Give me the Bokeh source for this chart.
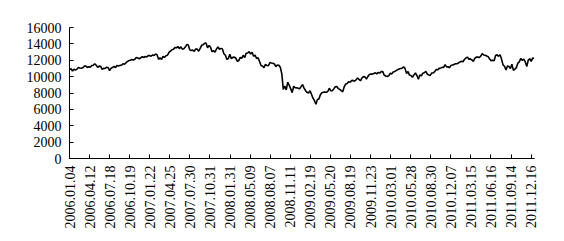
import numpy as np
from bokeh.plotting import figure
from bokeh.models import Range1d, FixedTicker
from bokeh.embed import file_html
from bokeh.resources import INLINE

# weekly closing values (2006-01 .. 2011-12)
v2006 = [10880, 10960, 10670, 10910, 10790, 10920, 11120, 11060, 11020, 11080, 11280, 11280, 11110,
         11200, 11140, 11350, 11380, 11580, 11380, 11140, 11280, 11250, 10890, 11010, 10990, 11150,
         11090, 10740, 11030, 11100, 11240, 11090, 11380, 11280, 11380, 11390, 11560, 11510, 11680,
         11850, 11960, 12000, 12090, 12030, 12110, 12340, 12280, 12190, 12300, 12440, 12340, 12460]
v2007 = [12400, 12560, 12570, 12490, 12650, 12580, 12770, 12650, 12110, 12280, 12110, 12480, 12350,
         12560, 12610, 12960, 13120, 13270, 13330, 13560, 13510, 13670, 13420, 13640, 13360, 13410,
         13610, 13910, 13850, 13270, 13180, 13240, 13080, 13380, 13360, 13110, 13440, 13820, 13900,
         14070, 14090, 13520, 13810, 13600, 13040, 13180, 12980, 13370, 13630, 13340, 13450, 13370]
v2008 = [12800, 12610, 12100, 12210, 12740, 12180, 12350, 12380, 12270, 11890, 11950, 12360, 12220,
         12610, 12330, 12850, 12890, 13060, 12750, 12990, 12480, 12640, 12210, 12310, 11840, 11350,
         11290, 11100, 11500, 11370, 11330, 11730, 11660, 11630, 11540, 11220, 11420, 11390, 11140,
         10330, 8450, 8850, 8380, 9330, 8940, 8500, 8050, 8830, 8640, 8630, 8580, 8520, 8780]
v2009 = [9030, 8600, 8280, 8080, 8000, 8280, 7850, 7370, 7060, 6630, 7220, 7280, 7780,
         8020, 8080, 8130, 8080, 8210, 8580, 8270, 8280, 8500, 8760, 8800, 8540, 8440,
         8280, 8150, 8740, 9090, 9170, 9370, 9320, 9510, 9540, 9440, 9610, 9820, 9670,
         9490, 9860, 10000, 9970, 9710, 10020, 10270, 10320, 10310, 10390, 10470, 10330, 10520, 10430]
v2010 = [10620, 10610, 10170, 10070, 10010, 10100, 10400, 10330, 10570, 10630, 10740, 10850,
         10930, 11000, 11020, 11200, 11010, 10380, 10620, 10190, 10140, 9930, 10210, 10450, 10140,
         9690, 10200, 10100, 10420, 10470, 10650, 10300, 10210, 10150, 10450, 10460, 10610, 10860,
         10830, 11010, 11060, 11130, 11120, 11450, 11190, 11200, 11090, 11380, 11410, 11490, 11570, 11580]
v2011 = [11670, 11790, 11870, 11820, 12090, 12270, 12390, 12130, 12170, 12040, 11860, 12220,
         12380, 12380, 12340, 12510, 12810, 12640, 12600, 12510, 12440, 12150, 11950, 12000, 11930,
         12580, 12660, 12480, 12680, 12140, 11440, 11270, 10820, 11290, 11240, 10990, 11510, 10770,
         10910, 11100, 11640, 11810, 12230, 11980, 12150, 11800, 11230, 12020, 12180, 11870, 12290, 12220]

values = v2006 + v2007 + v2008 + v2009 + v2010 + v2011
n_days = 1506          # trading days in the series
tick_step = 65         # trading days between labelled ticks
tick_labels = ["2006.01.04", "2006.04.12", "2006.07.18", "2006.10.19", "2007.01.22", "2007.04.25",
               "2007.07.30", "2007.10.31", "2008.01.31", "2008.05.09", "2008.08.07", "2008.11.11",
               "2009.02.19", "2009.05.20", "2009.08.19", "2009.11.23", "2010.03.01", "2010.05.28",
               "2010.08.30", "2010.12.07", "2011.03.15", "2011.06.16", "2011.09.14", "2011.12.16"]
y_ticks = [0, 2000, 4000, 6000, 8000, 10000, 12000, 14000, 16000]

x = np.linspace(0, n_days - 1, len(values))

p = figure(width=564, height=241, output_backend="svg", toolbar_location=None,
           x_range=Range1d(0, n_days), y_range=Range1d(0, 16000),
           min_border_left=69, min_border_right=30, min_border_top=27, min_border_bottom=83)
p.outline_line_color = None
p.xgrid.visible = False
p.ygrid.visible = False
p.background_fill_color = "white"

p.line(x, values, line_color="black", line_width=1.6)

font = "Liberation Serif"
tick_pos = [i * tick_step for i in range(len(tick_labels))]
p.xaxis.ticker = FixedTicker(ticks=tick_pos)
p.xaxis.major_label_overrides = {t: lab for t, lab in zip(tick_pos, tick_labels)}
p.xaxis.major_label_orientation = np.pi / 2
p.xaxis.minor_tick_line_color = None
p.xaxis.major_tick_in = 4
p.xaxis.major_tick_out = 0
p.xaxis.major_label_standoff = 7

p.yaxis.ticker = FixedTicker(ticks=y_ticks)
p.yaxis.minor_tick_line_color = None
p.yaxis.major_tick_in = 4
p.yaxis.major_tick_out = 0
p.yaxis.major_label_standoff = 8

for ax in (p.xaxis[0], p.yaxis[0]):
    ax.major_label_text_font = font
    ax.major_label_text_font_size = "14px"
    ax.major_label_text_font_style = "normal"
    ax.major_label_text_color = "black"
    ax.axis_line_color = "black"
    ax.major_tick_line_color = "black"

open("out.html", "w").write(file_html(p, INLINE))
